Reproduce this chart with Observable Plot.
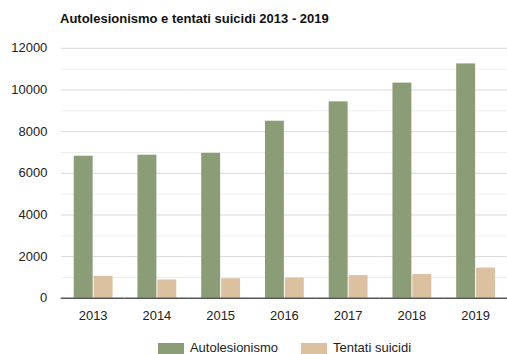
<!DOCTYPE html>
<html><head><meta charset="utf-8">
<script src="https://cdn.jsdelivr.net/npm/d3@7"></script>
<script src="https://cdn.jsdelivr.net/npm/@observablehq/plot@0.6"></script>
<style>
body{margin:0;overflow:hidden;background:#fff;font-family:"Liberation Sans",Arial,Helvetica,sans-serif;}
#wrap{position:relative;width:507px;height:354px;overflow:hidden;}
#chart{position:absolute;left:0;top:0;}
#title{position:absolute;left:60px;top:12px;font-weight:bold;font-size:13px;line-height:14px;color:#111;white-space:nowrap;}
#legend{position:absolute;left:60px;width:449px;top:341px;display:flex;justify-content:center;font-size:13px;line-height:13px;color:#222;}
.item{display:flex;align-items:flex-start;}
.sw{display:inline-block;width:26px;height:11px;margin-top:2px;margin-right:6px;}
.item + .item{margin-left:23px;}
</style></head><body>
<div id="wrap"><div id="chart"></div><div id="title"></div><div id="legend"></div></div>
<script>
const titleText = "Autolesionismo e tentati suicidi 2013 - 2019";
const years = [2013, 2014, 2015, 2016, 2017, 2018, 2019];
const series = ["Autolesionismo", "Tentati suicidi"];
const autolesionismo = [6820, 6870, 6960, 8500, 9430, 10330, 11250];
const tentatiSuicidi = [1055, 880, 940, 975, 1090, 1140, 1450];
const colors = ["#8a9d76", "#dcc1a0"];
const yTicks = [0, 2000, 4000, 6000, 8000, 10000, 12000];
const majorGrid = [2000, 4000, 6000, 8000, 10000, 12000];
const minorGrid = [1000, 3000, 5000, 7000, 9000, 11000];

const data = years.flatMap((y, i) => [
  {year: y, series: series[0], value: autolesionismo[i]},
  {year: y, series: series[1], value: tentatiSuicidi[i]}
]);

const chart = Plot.plot({
  width: 509, height: 335,
  marginTop: 48, marginBottom: 36, marginLeft: 60, marginRight: 0,
  style: {fontFamily: "'Liberation Sans', Arial, Helvetica, sans-serif", fontSize: "13px", color: "#222", background: "transparent"},
  fx: {domain: years, padding: 0, label: null, axis: "bottom", tickSize: 0, tickPadding: 13, tickFormat: d => String(d)},
  x: {domain: series, paddingInner: 0.05, paddingOuter: 0.625, axis: null},
  y: {domain: [0, 12000], ticks: yTicks, tickSize: 0, tickPadding: 14, label: null, tickFormat: d => String(d)},
  color: {domain: series, range: colors},
  marks: [
    Plot.ruleY(minorGrid, {stroke: "#eeeeee", strokeWidth: 1}),
    Plot.ruleY(majorGrid, {stroke: "#d9d9d9", strokeWidth: 1}),
    Plot.barY(data, {fx: "year", x: "series", y: "value", fill: "series"}),
    Plot.ruleY([0], {stroke: "#555", strokeWidth: 1.5})
  ]
});
document.getElementById("chart").appendChild(chart);
document.getElementById("title").textContent = titleText;

const legend = document.getElementById("legend");
series.forEach((s, i) => {
  const item = document.createElement("div");
  item.className = "item";
  const sw = document.createElement("span");
  sw.className = "sw";
  sw.style.background = colors[i];
  const label = document.createElement("span");
  label.textContent = s;
  item.appendChild(sw);
  item.appendChild(label);
  legend.appendChild(item);
});
</script>
</body></html>
